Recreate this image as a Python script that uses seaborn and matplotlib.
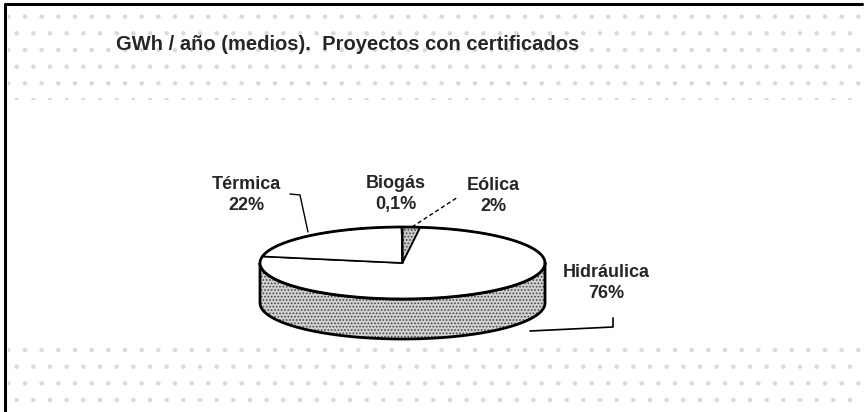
import numpy as np
import seaborn as sns
import matplotlib.pyplot as plt
from matplotlib.patches import Polygon, Rectangle

sns.set_theme(style="white")
plt.rcParams['font.family'] = ['Liberation Sans', 'DejaVu Sans']
plt.rcParams['hatch.linewidth'] = 0.8

# data (clockwise from 12 o'clock)
labels = ["Eólica", "Hidráulica", "Térmica", "Biogás"]
pct_text = ["2%", "76%", "22%", "0,1%"]
values = [2.0, 76.0, 22.0, 0.1]
title = "GWh / año (medios).  Proyectos con certificados"

fig = plt.figure(figsize=(8.64, 4.12), dpi=100)
ax = fig.add_axes([0, 0, 1, 1])
ax.set_xlim(0, 864)
ax.set_ylim(412, 0)
ax.axis("off")

# scanned-paper speckle bands
for y0, h in [(5, 95), (338, 80)]:
    ax.add_patch(Rectangle((8, y0), 856, h, facecolor="white", edgecolor="#dadada",
                           hatch=".", lw=0, zorder=0))
# frame
ax.plot([5, 5, 862], [412, 4, 4], color="black", lw=2.2, zorder=5)

# pie geometry
cx, cy, rx, ry, depth = 402.5, 263, 142.5, 36, 40

def ell(theta_deg, dy=0.0):
    t = np.radians(theta_deg)
    return cx + rx * np.cos(t), cy - ry * np.sin(t) + dy

fracs = np.array(values) / np.sum(values)
bounds = 90 - 360 * np.concatenate([[0], np.cumsum(fracs)])

# side wall (front half)
th = np.linspace(180, 360, 120)
top = np.array([ell(t) for t in th])
bot = np.array([ell(t, depth) for t in th[::-1]])
side = np.vstack([top, bot])
ax.add_patch(Polygon(side, closed=True, facecolor="#d2d2d2", edgecolor="#444444",
                     hatch=".....", lw=0, zorder=2))
ax.add_patch(Polygon(side, closed=True, facecolor="none", edgecolor="black",
                     lw=2.0, zorder=3))

# top slices
tops = {"Eólica": ("#cccccc", "....."), "Hidráulica": ("white", None),
        "Térmica": ("white", None), "Biogás": ("white", None)}
for name, a0, a1 in zip(labels, bounds[:-1], bounds[1:]):
    th = np.linspace(a0, a1, max(int(abs(a1 - a0)), 2))
    pts = np.vstack([[cx, cy], [ell(t) for t in th]])
    fc, hatch = tops[name]
    if hatch:
        ax.add_patch(Polygon(pts, closed=True, facecolor=fc, edgecolor="#444444",
                             hatch=hatch, lw=0, zorder=4))
        ax.add_patch(Polygon(pts, closed=True, facecolor="none", edgecolor="black",
                             lw=1.2, zorder=4))
    else:
        ax.add_patch(Polygon(pts, closed=True, facecolor=fc, edgecolor="black",
                             lw=1.2, zorder=4))
th = np.linspace(0, 360, 361)
rim = np.array([ell(t) for t in th])
ax.plot(rim[:, 0], rim[:, 1], color="black", lw=2.0, zorder=5)

# labels
label_pos = {"Térmica": (246, 195), "Biogás": (396, 194),
             "Eólica": (493, 196), "Hidráulica": (606, 283)}
for name, p in zip(labels, pct_text):
    x, y = label_pos[name]
    ax.text(x, y, f"{name}\n{p}", ha="center", va="center", fontsize=13,
            fontweight="bold", linespacing=1.25, zorder=6)

# leader lines
ax.plot([290, 300, 308], [194, 195, 232], color="black", lw=1.0, zorder=6)
ax.plot([412, 458], [227, 197], color="black", lw=1.0, ls=(0, (3, 2)), zorder=6)
ax.plot([530, 613, 613], [331, 327, 318], color="black", lw=1.2, zorder=6)

ax.text(348, 44, title, ha="center", va="center", fontsize=14.5, fontweight="bold",
        zorder=6)

fig.savefig("out.png", dpi=100, facecolor="white")
